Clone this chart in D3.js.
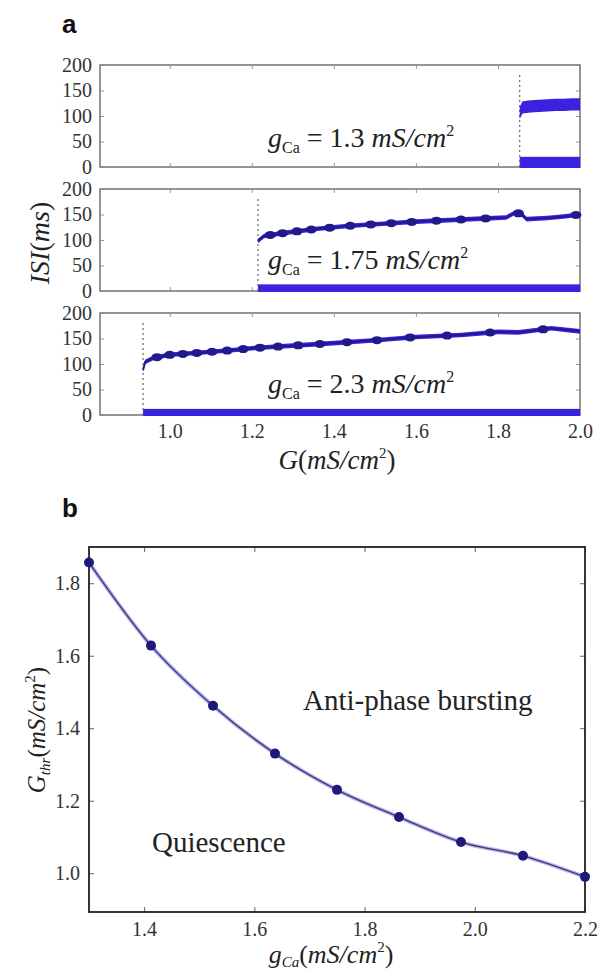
<!DOCTYPE html>
<html>
<head>
<meta charset="utf-8">
<script src="https://cdn.jsdelivr.net/npm/d3@7"></script>
<style>
  body { margin: 0; background: #fff; }
  svg { display: block; }
</style>
</head>
<body>
<svg id="chart" width="601" height="975"></svg>
<script>
// ---------- panel a: ISI versus coupling strength G ----------
const gCaValues = ["1.3", "1.75", "2.3"];
const onsetG = [1.853, 1.215, 0.935];        // threshold where bursting starts
const onsetTopISI = [185, 182, 184];          // extent of the dotted threshold marker
const isiTicks = [0, 50, 100, 150, 200];
const gTicks = [1.0, 1.2, 1.4, 1.6, 1.8, 2.0];

// long (inter-burst) intervals
const upperG_13 = [1.853, 1.86, 1.88, 1.90, 1.92, 1.94, 1.96, 1.98, 2.0];
const upperISI_13 = [106, 117, 119, 120, 121, 122, 122, 123, 123];
const upperG_175 = [1.215, 1.23, 1.28, 1.36, 1.44, 1.52, 1.60, 1.68, 1.76, 1.82, 1.84, 1.855, 1.87, 1.92, 1.96, 2.0];
const upperISI_175 = [98, 108, 114, 122, 128, 132, 136, 139, 142, 144, 153, 152, 141, 143, 146, 150];
const upperG_23 = [0.935, 0.94, 0.96, 1.0, 1.07, 1.15, 1.2, 1.32, 1.4, 1.51, 1.6, 1.71, 1.8, 1.85, 1.93, 2.0];
const upperISI_23 = [88, 104, 112, 118, 122, 127, 131, 137, 141, 147, 153, 157, 163, 162, 170, 164];
// clusters of points along the long-interval branch
const beadsG_175 = [1.245, 1.275, 1.31, 1.345, 1.39, 1.44, 1.49, 1.54, 1.59, 1.65, 1.71, 1.77, 1.85, 1.99];
const beadsG_23 = [0.969, 1.0, 1.032, 1.066, 1.103, 1.14, 1.179, 1.22, 1.264, 1.313, 1.366, 1.432, 1.505, 1.586, 1.676, 1.781, 1.91];
const upperSpread = [12, 4.5, 4.5];           // half-width of the long-interval band (ms)
// short (intra-burst) intervals fill 0..max
const lowerISImax = [20, 13, 12];

// ---------- panel b: threshold coupling versus g_Ca ----------
const gCaB = [1.3, 1.4125, 1.525, 1.6375, 1.75, 1.8625, 1.975, 2.0875, 2.2];
const Gthr = [1.857, 1.628, 1.462, 1.330, 1.230, 1.155, 1.086, 1.048, 0.990];
const bXTicks = [1.4, 1.6, 1.8, 2.0, 2.2];
const bYTicks = [1.0, 1.2, 1.4, 1.6, 1.8];

const svg = d3.select("#chart");
const serif = '"Liberation Serif", "DejaVu Serif", serif';
const sans = '"Liberation Sans", Arial, sans-serif';
const bandBlue = "#3a22de";
const navy = "#221a8c";

// mathematical label made of tspans
function mathText(sel, parts) {
  parts.forEach(p => {
    const t = sel.append("tspan").text(p.t);
    if (p.i) t.style("font-style", "italic");
    if (p.s) t.style("font-size", p.s + "px");
    if (p.dy) t.attr("dy", p.dy);
    if (p.dx) t.attr("dx", p.dx);
  });
  return sel;
}
function styleText(sel, size) {
  return sel.style("font-family", serif).style("font-size", size + "px").attr("fill", "#222");
}

// panel letters
svg.append("text").attr("x", 62).attr("y", 33).style("font-family", sans)
  .style("font-weight", "bold").style("font-size", "26px").attr("fill", "#111").text("a");
svg.append("text").attr("x", 62).attr("y", 517).style("font-family", sans)
  .style("font-weight", "bold").style("font-size", "26px").attr("fill", "#111").text("b");

const xA = d3.scaleLinear().domain([0.83, 2.0]).range([100, 580]);
const panelTops = [65, 189, 313];
const panelH = 102;
const uppers = [
  { g: upperG_13, isi: upperISI_13, beads: [] },
  { g: upperG_175, isi: upperISI_175, beads: beadsG_175 },
  { g: upperG_23, isi: upperISI_23, beads: beadsG_23 }
];

function tidyAxis(a, tickColor) {
  a.select(".domain").remove();
  a.selectAll(".tick line").attr("stroke", tickColor);
  a.selectAll("text").style("font-family", serif).style("font-size", "20px").attr("fill", "#333");
}

panelTops.forEach((top, k) => {
  const y = d3.scaleLinear().domain([0, 200]).range([top + panelH, top]);
  const g = svg.append("g");

  // inward ticks on all sides
  const left = g.append("g").attr("transform", `translate(${xA.range()[0]},0)`)
    .call(d3.axisLeft(y).tickValues(isiTicks).tickSize(-4).tickPadding(8));
  const right = g.append("g").attr("transform", `translate(${xA.range()[1]},0)`)
    .call(d3.axisRight(y).tickValues(isiTicks).tickSize(-4).tickFormat(""));
  const topAx = g.append("g").attr("transform", `translate(0,${top})`)
    .call(d3.axisTop(xA).tickValues(gTicks).tickSize(-4).tickFormat(""));
  const bottom = g.append("g").attr("transform", `translate(0,${top + panelH})`)
    .call(d3.axisBottom(xA).tickValues(gTicks).tickSize(-4).tickPadding(9)
      .tickFormat(k === 2 ? d3.format(".1f") : ""));
  [left, right, topAx, bottom].forEach(a => tidyAxis(a, "#999"));

  // frame
  g.append("rect").attr("x", xA.range()[0]).attr("y", top)
    .attr("width", xA.range()[1] - xA.range()[0]).attr("height", panelH)
    .attr("fill", "none").attr("stroke", "#8a8a8a").attr("stroke-width", 1.8);

  const g0 = onsetG[k];
  // short intervals
  g.append("rect").attr("x", xA(g0)).attr("y", y(lowerISImax[k]))
    .attr("width", xA(2.0) - xA(g0)).attr("height", y(-2) - y(lowerISImax[k]))
    .attr("fill", bandBlue);

  // threshold marker
  g.append("line").attr("x1", xA(g0)).attr("x2", xA(g0))
    .attr("y1", y(0)).attr("y2", y(onsetTopISI[k]))
    .attr("stroke", "#666").attr("stroke-width", 1.2).attr("stroke-dasharray", "2,3");

  // long intervals
  const u = uppers[k];
  const pts = u.g.map((d, i) => [d, u.isi[i]]);
  const sp = upperSpread[k];
  g.append("path").datum(pts)
    .attr("d", d3.area().x(d => xA(d[0])).y0(d => y(d[1] - sp)).y1(d => y(d[1] + sp)))
    .attr("fill", bandBlue);
  if (k > 0) {
    g.append("path").datum(pts)
      .attr("d", d3.line().x(d => xA(d[0])).y(d => y(d[1])))
      .attr("fill", "none").attr("stroke", navy).attr("stroke-width", 2);
    const interp = gv => {
      const i = d3.bisector(d => d[0]).left(pts, gv);
      const a = pts[Math.max(0, i - 1)], b = pts[Math.min(pts.length - 1, i)];
      const t = b[0] === a[0] ? 0 : (gv - a[0]) / (b[0] - a[0]);
      return a[1] + t * (b[1] - a[1]);
    };
    g.selectAll(".bead").data(u.beads).join("ellipse")
      .attr("cx", d => xA(d)).attr("cy", d => y(interp(d)))
      .attr("rx", 5.5).attr("ry", 4).attr("fill", navy);
  }

  // conductance annotation
  const lbl = styleText(g.append("text").attr("x", 268).attr("y", top + [82, 80, 80][k]), 28);
  mathText(lbl, [
    { t: "g", i: true },
    { t: "Ca", s: 16, dy: 6 },
    { t: " = " + gCaValues[k] + " ", dy: -6 },
    { t: "mS/cm", i: true },
    { t: "2", s: 16, dy: -11 }
  ]);
});

// panel a axis titles
mathText(styleText(svg.append("text").attr("transform", "translate(49,243) rotate(-90)")
  .attr("text-anchor", "middle"), 28),
  [{ t: "ISI", i: true }, { t: "(" }, { t: "ms", i: true }, { t: ")" }]);
mathText(styleText(svg.append("text").attr("x", 337).attr("y", 469)
  .attr("text-anchor", "middle"), 27),
  [{ t: "G", i: true }, { t: "(" }, { t: "mS/cm", i: true }, { t: "2", s: 15, dy: -11 }, { t: ")", dy: 11 }]);

// ---------- panel b ----------
const xB = d3.scaleLinear().domain([1.3, 2.2]).range([89, 585]);
const yB = d3.scaleLinear().domain([0.893, 1.9]).range([912, 547]);
const gb = svg.append("g");
const bl = gb.append("g").attr("transform", `translate(${xB.range()[0]},0)`)
  .call(d3.axisLeft(yB).tickValues(bYTicks).tickSize(-5).tickPadding(9).tickFormat(d3.format(".1f")));
const br = gb.append("g").attr("transform", `translate(${xB.range()[1]},0)`)
  .call(d3.axisRight(yB).tickValues(bYTicks).tickSize(-5).tickFormat(""));
const bt = gb.append("g").attr("transform", `translate(0,${yB.range()[1]})`)
  .call(d3.axisTop(xB).tickValues(bXTicks).tickSize(-5).tickFormat(""));
const bb = gb.append("g").attr("transform", `translate(0,${yB.range()[0]})`)
  .call(d3.axisBottom(xB).tickValues(bXTicks).tickSize(-5).tickPadding(10).tickFormat(d3.format(".1f")));
[bl, br, bt, bb].forEach(a => tidyAxis(a, "#666"));
gb.append("rect").attr("x", xB.range()[0]).attr("y", yB.range()[1])
  .attr("width", xB.range()[1] - xB.range()[0]).attr("height", yB.range()[0] - yB.range()[1])
  .attr("fill", "none").attr("stroke", "#222").attr("stroke-width", 1.8);

const bPts = gCaB.map((d, i) => [d, Gthr[i]]);
const bLine = d3.line().x(d => xB(d[0])).y(d => yB(d[1])).curve(d3.curveMonotoneX);
gb.append("path").datum(bPts).attr("d", bLine).attr("fill", "none")
  .attr("stroke", "#7a74ff").attr("stroke-width", 4).attr("stroke-opacity", 0.55);
gb.append("path").datum(bPts).attr("d", bLine).attr("fill", "none")
  .attr("stroke", "#3c3c5a").attr("stroke-width", 1.4);
gb.selectAll(".pt").data(bPts).join("circle")
  .attr("cx", d => xB(d[0])).attr("cy", d => yB(d[1])).attr("r", 5).attr("fill", "#1d1a7a");

styleText(gb.append("text").attr("x", 303).attr("y", 710), 29).text("Anti-phase bursting");
styleText(gb.append("text").attr("x", 152).attr("y", 852), 29).text("Quiescence");

mathText(styleText(svg.append("text").attr("transform", "translate(45,730) rotate(-90)")
  .attr("text-anchor", "middle"), 25),
  [{ t: "G", i: true }, { t: "thr", i: true, s: 15, dy: 5 }, { t: "(", dy: -5 }, { t: "mS/cm", i: true },
   { t: "2", s: 15, dy: -10 }, { t: ")", dy: 10 }]);
mathText(styleText(svg.append("text").attr("x", 331).attr("y", 963)
  .attr("text-anchor", "middle"), 26),
  [{ t: "g", i: true }, { t: "Ca", i: true, s: 15, dy: 4 }, { t: "(", dy: -4 }, { t: "mS/cm", i: true },
   { t: "2", s: 15, dy: -11 }, { t: ")", dy: 11 }]);
</script>
</body>
</html>
